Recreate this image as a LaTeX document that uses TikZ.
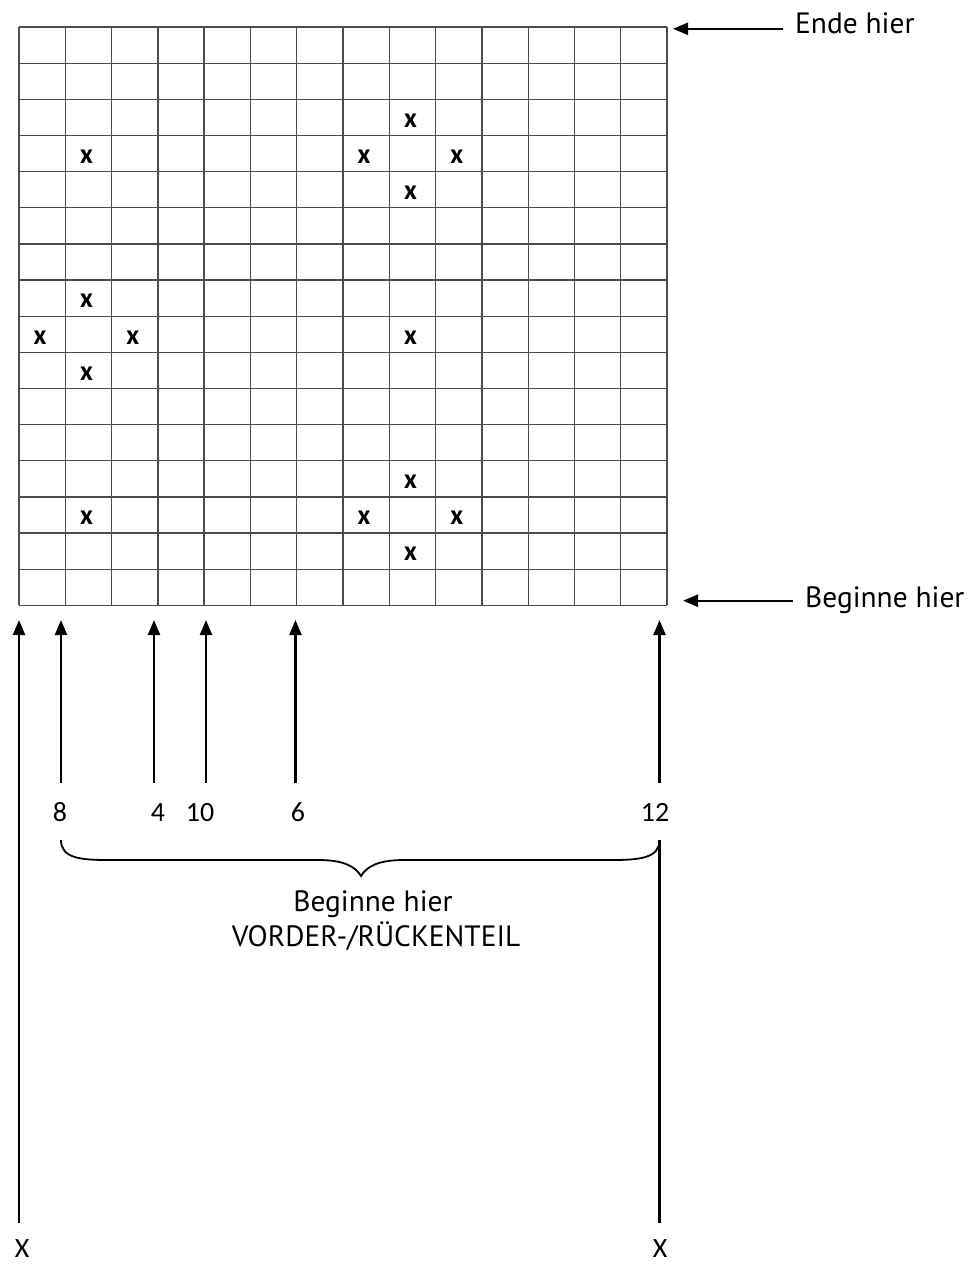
\documentclass[tikz,border=0pt]{standalone}
\usepackage{fontspec}
\setmainfont{PT Sans}
\newfontfamily\numfont{Carlito}
\usetikzlibrary{arrows.meta}
\tikzset{
  gridline/.style={draw=black!70, line width=1.3bp},
  conn/.style={draw=black, line width=2.3bp},
  arr/.style={conn, -{Triangle[length=15bp,width=12bp]}},
  lbl/.style={inner sep=0pt, font=\fontsize{29.5}{34}\selectfont},
  numlbl/.style={inner sep=0pt, font=\numfont\fontsize{28}{32}\selectfont},
  xmark/.style={inner sep=0pt, font=\numfont\bfseries\fontsize{28}{30}\selectfont}
}
\begin{document}
\begin{tikzpicture}[x=1bp,y=-1bp]
\useasboundingbox (0,0) rectangle (973,1264);
\fill[white] (0,0) rectangle (973,1264);
% grid
\foreach \i in {0,...,14}
  \draw[gridline] ({19+\i*46.286},27) -- ({19+\i*46.286},605.4);
\foreach \j in {0,...,16}
  \draw[gridline] (19,{27+\j*36.15}) -- (667,{27+\j*36.15});
% marks
\foreach \c/\r [count=\k] in {8/2,1/3,7/3,9/3,8/4,1/7,0/8,2/8,8/8,1/9,8/12,1/13,7/13,9/13,8/14}
  \node[xmark] (m\k) at ({19+(\c+0.5)*46.286-2},{27+(\r+0.5)*36.15+3}) {x};
% right labels
\node[lbl, anchor=base west] (ende) at (795,33.5) {Ende hier};
\node[lbl, anchor=base west] (beg) at (805,607.5) {Beginne hier};
\coordinate (endeS) at (783,28.8);
\coordinate (endeT) at (673,28.8);
\coordinate (begS) at (793,600.7);
\coordinate (begT) at (683,600.7);
\draw[arr] (endeS) -- (endeT);
\draw[arr] (begS) -- (begT);
% number labels
\node[numlbl, anchor=base] (n8) at (60,821.5) {8};
\node[numlbl, anchor=base] (n4) at (158,821.5) {4};
\node[numlbl, anchor=base] (n10) at (200,821.5) {10};
\node[numlbl, anchor=base] (n6) at (298,821.5) {6};
\node[numlbl, anchor=base] (n12) at (655,821.5) {12};
\node[numlbl, anchor=base] (xl) at (22,1257) {X};
\node[numlbl, anchor=base] (xr) at (660,1257) {X};
% arrow coordinates
\foreach \n/\x in {a8/61,a4/154,a10/206,a6/295.5,a12/659.5}{
  \coordinate (\n s) at (\x,783);
  \coordinate (\n t) at (\x,620);
}
\foreach \n in {a8,a4,a10,a6,a12}
  \draw[arr] (\n s) -- (\n t);
\coordinate (longL) at (19,1223);
\coordinate (longLt) at (19,620);
\draw[arr] (longL) -- (longLt);
% brace
\coordinate (braceL) at (61,840);
\coordinate (braceR) at (659.5,840);
\coordinate (braceT) at (361,876);
\coordinate (longR) at (659.5,1223);
\draw[conn, line width=1.8bp] (braceL) .. controls (61,858) and (80,860) .. (108,860)
  -- (318,860) .. controls (343,860) and (355,866) .. (braceT)
  .. controls (367,866) and (379,860) .. (404,860)
  -- (612,860) .. controls (640,860) and (659.5,858) .. (braceR);
\draw[conn] (braceR) -- (longR);
\node[lbl, anchor=base] (t1) at (373,911) {Beginne hier};
\node[lbl, anchor=base] (t2) at (376,946) {VORDER-/RÜCKENTEIL};
\end{tikzpicture}
\end{document}
